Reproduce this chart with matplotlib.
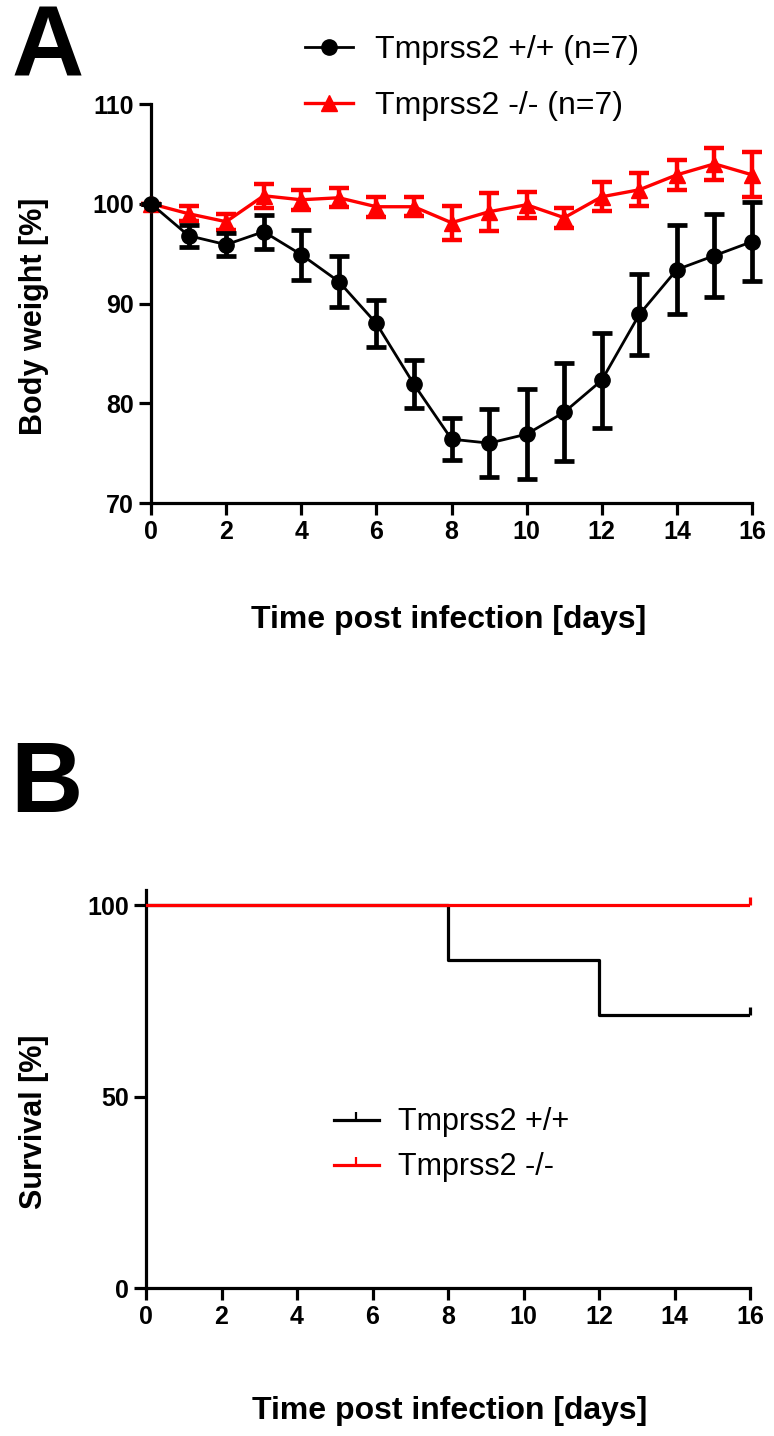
import matplotlib
matplotlib.use('Agg')
import matplotlib.pyplot as plt

plt.rcParams['font.family'] = ['Liberation Sans', 'DejaVu Sans']

# body weight, mean and SEM per day
days = list(range(17))
wt_mean = [100, 96.8, 95.9, 97.2, 94.9, 92.2, 88.0, 81.9, 76.4, 76.0, 76.9, 79.1, 82.3, 88.9, 93.4, 94.8, 96.2]
wt_sem = [0, 1.1, 1.15, 1.7, 2.5, 2.55, 2.4, 2.4, 2.1, 3.4, 4.5, 4.9, 4.75, 4.05, 4.45, 4.15, 3.95]
ko_mean = [100, 99.0, 98.2, 100.8, 100.4, 100.6, 99.7, 99.7, 98.1, 99.2, 99.9, 98.6, 100.7, 101.4, 102.9, 104.0, 102.9]
ko_sem = [0, 0.75, 0.8, 1.2, 1.0, 0.95, 1.0, 0.95, 1.7, 1.9, 1.3, 1.0, 1.45, 1.65, 1.5, 1.6, 2.25]

# survival (Kaplan-Meier steps)
surv_days_wt = [0, 8, 12, 16]
surv_wt = [100, 85.7, 71.4, 71.4]
surv_days_ko = [0, 16]
surv_ko = [100, 100]

x_ticks = list(range(0, 17, 2))
RED = '#FF0000'
TICK_FS = 18
XLABEL_FS = 23
YLABEL_FS = 22

fig = plt.figure(figsize=(7.74, 14.36), dpi=100)


def style_axes(ax):
    for s in ['top', 'right']:
        ax.spines[s].set_visible(False)
    for s in ['left', 'bottom']:
        ax.spines[s].set_linewidth(2.3)
    ax.tick_params(direction='out', length=8.5, width=2.3, pad=4, labelsize=TICK_FS)
    for lab in ax.get_xticklabels() + ax.get_yticklabels():
        lab.set_fontweight('bold')


# ---- panel A ----
ax1 = fig.add_axes([151 / 774, 1 - 503 / 1436, 601 / 774, 399 / 1436])
ax1.errorbar(days, ko_mean, yerr=ko_sem, color=RED, marker='^', markersize=11, lw=2.4,
             elinewidth=3.2, capsize=7, capthick=3.2, clip_on=False, zorder=3)
ax1.errorbar(days, wt_mean, yerr=wt_sem, color='black', marker='o', markersize=11, lw=2.0,
             elinewidth=3.4, capsize=7, capthick=3.4, clip_on=False, zorder=4)
ax1.set_xlim(0, 16)
ax1.set_ylim(70, 110)
ax1.set_xticks(x_ticks)
ax1.set_yticks([70, 80, 90, 100, 110])
style_axes(ax1)
ax1.set_xlabel('Time post infection [days]', fontsize=XLABEL_FS, fontweight='bold')
ax1.xaxis.set_label_coords(0.495, -0.255)

hA_wt = plt.Line2D([], [], color='black', lw=2.0, marker='o', markersize=11)
hA_ko = plt.Line2D([], [], color=RED, lw=2.4, marker='^', markersize=11)
fig.legend([hA_wt, hA_ko], ['Tmprss2 +/+ (n=7)', 'Tmprss2 -/- (n=7)'], loc='upper left',
           bbox_to_anchor=(292 / 774, 1 - 22 / 1436), frameon=False, fontsize=23,
           handlelength=1.5, handletextpad=0.7, labelspacing=0.82, borderaxespad=0)

fig.text(34 / 774, 1 - 316 / 1436, 'Body weight [%]', rotation=90, ha='center', va='center',
         fontsize=YLABEL_FS, fontweight='bold')

# ---- panel B ----
ax2 = fig.add_axes([146 / 774, 1 - 1288 / 1436, 604 / 774, 398 / 1436])
ax2.step(surv_days_wt, surv_wt, where='post', color='black', lw=2.3, zorder=3)
ax2.step(surv_days_ko, surv_ko, where='post', color=RED, lw=2.3, zorder=4)
tick_marker = [(0, 0), (0, 1)]
ax2.plot([surv_days_wt[-1]], [surv_wt[-1]], ls='none', marker=tick_marker, markersize=12,
         mec='black', mew=2.3, mfc='none', clip_on=False, zorder=5)
ax2.plot([surv_days_ko[-1]], [surv_ko[-1]], ls='none', marker=tick_marker, markersize=12,
         mec=RED, mew=2.3, mfc='none', clip_on=False, zorder=5)
ax2.set_xlim(0, 16)
ax2.set_ylim(0, 104)
ax2.set_xticks(x_ticks)
ax2.set_yticks([0, 50, 100])
style_axes(ax2)
ax2.set_xlabel('Time post infection [days]', fontsize=XLABEL_FS, fontweight='bold')
ax2.xaxis.set_label_coords(0.503, -0.272)

hB_wt = plt.Line2D([], [], color='black', lw=2.3, marker=tick_marker, markersize=12,
                   mec='black', mew=1.6, mfc='none')
hB_ko = plt.Line2D([], [], color=RED, lw=2.3, marker=tick_marker, markersize=12,
                   mec=RED, mew=1.6, mfc='none')
ax2.legend([hB_wt, hB_ko], ['Tmprss2 +/+', 'Tmprss2 -/-'], loc='upper left',
           bbox_to_anchor=(322 / 774, 1 - 1095 / 1436), bbox_transform=fig.transFigure,
           frameon=False, fontsize=22, handlelength=1.45, handletextpad=0.65,
           labelspacing=0.5, borderaxespad=0)

fig.text(34 / 774, 1 - 1122 / 1436, 'Survival [%]', rotation=90, ha='center', va='center',
         fontsize=YLABEL_FS, fontweight='bold')

fig.text(12 / 774, 1 - 77 / 1436, 'A', fontsize=72, fontweight='bold', va='baseline')
fig.text(10 / 774, 1 - 812 / 1436, 'B', fontsize=72, fontweight='bold', va='baseline')

fig.savefig('out.png', dpi=100)
